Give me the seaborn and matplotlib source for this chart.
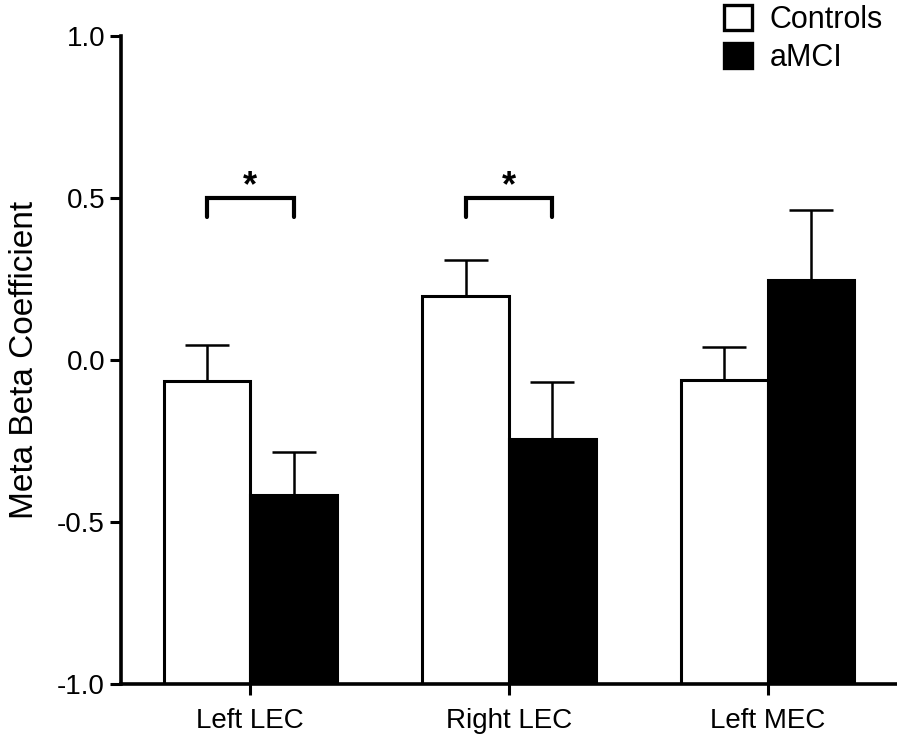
import numpy as np
import pandas as pd
import matplotlib
matplotlib.use("Agg")
import matplotlib.pyplot as plt
import seaborn as sns
from matplotlib.patches import Patch

regions = ["Left LEC", "Right LEC", "Left MEC"]
groups = ["Controls", "aMCI"]
controls_mean = [-0.065, 0.198, -0.062]
controls_err = [0.111, 0.111, 0.102]
amci_mean = [-0.417, -0.244, 0.247]
amci_err = [0.133, 0.176, 0.216]
yticks = [-1.0, -0.5, 0.0, 0.5, 1.0]
sig_regions = ["Left LEC", "Right LEC"]

sns.set_style("ticks")
plt.rcParams["font.family"] = ["Liberation Sans", "DejaVu Sans"]
plt.rcParams["text.color"] = "black"
plt.rcParams["axes.labelcolor"] = "black"

df = pd.DataFrame({
    "region": regions * 2,
    "group": [groups[0]] * 3 + [groups[1]] * 3,
    "value": controls_mean + amci_mean,
    "err": controls_err + amci_err,
})

fig = plt.figure(figsize=(8.97, 7.49), dpi=100)
ax = fig.add_axes([121 / 897, 1 - 684 / 749, 1 - 121 / 897, (684 - 36) / 749])

sns.barplot(data=df, x="region", y="value", hue="group", order=regions,
            hue_order=groups, palette=["white", "black"], edgecolor="black",
            linewidth=2.2, width=0.67, legend=False, ax=ax, errorbar=None)

bars = [p for p in ax.patches][:6]
vals = controls_mean + amci_mean
errs = controls_err + amci_err
xs = []
for p, v in zip(bars, vals):
    p.set_y(-1.0)
    p.set_height(v + 1.0)
    xs.append(p.get_x() + p.get_width() / 2)

ax.errorbar(xs, vals, yerr=[np.zeros(len(errs)), errs], fmt="none",
            ecolor="black", elinewidth=1.8, capsize=16, capthick=1.8, zorder=0)

# significance brackets
for r in sig_regions:
    i = regions.index(r)
    x0, x1 = xs[i], xs[i + 3]
    ax.plot([x0, x0, x1, x1], [0.44, 0.5, 0.5, 0.44], color="black", lw=3,
            solid_capstyle="round", solid_joinstyle="miter")
    ax.text((x0 + x1) / 2, 0.535, "*", ha="center", va="center", fontsize=26,
            fontweight="bold", color="black")

ax.set_ylim(-1, 1)
ax.set_xlim(-0.5, 2.5)
ax.set_yticks(yticks)
ax.set_yticklabels([f"{t:.1f}" for t in yticks])
ax.set_xlabel("")
ax.set_ylabel("Meta Beta Coefficient", fontsize=24, labelpad=12, color="black")
ax.tick_params(axis="both", labelsize=20, width=2.2, length=8, color="black",
               labelcolor="black")
ax.tick_params(axis="x", pad=9)
for s in ["top", "right"]:
    ax.spines[s].set_visible(False)
for s in ["left", "bottom"]:
    ax.spines[s].set_linewidth(2.6)
    ax.spines[s].set_color("black")

handles = [Patch(facecolor="white", edgecolor="black", linewidth=2.4),
           Patch(facecolor="black", edgecolor="black", linewidth=2.4)]
fig.legend(handles, groups, loc="upper left", bbox_to_anchor=(724 / 897, 1 - 5 / 749),
           frameon=False, fontsize=22, handlelength=0.9, handleheight=0.9,
           handletextpad=0.6, labelspacing=0.25, borderpad=0, borderaxespad=0,
           labelcolor="black")

fig.savefig("out.png", dpi=100)
